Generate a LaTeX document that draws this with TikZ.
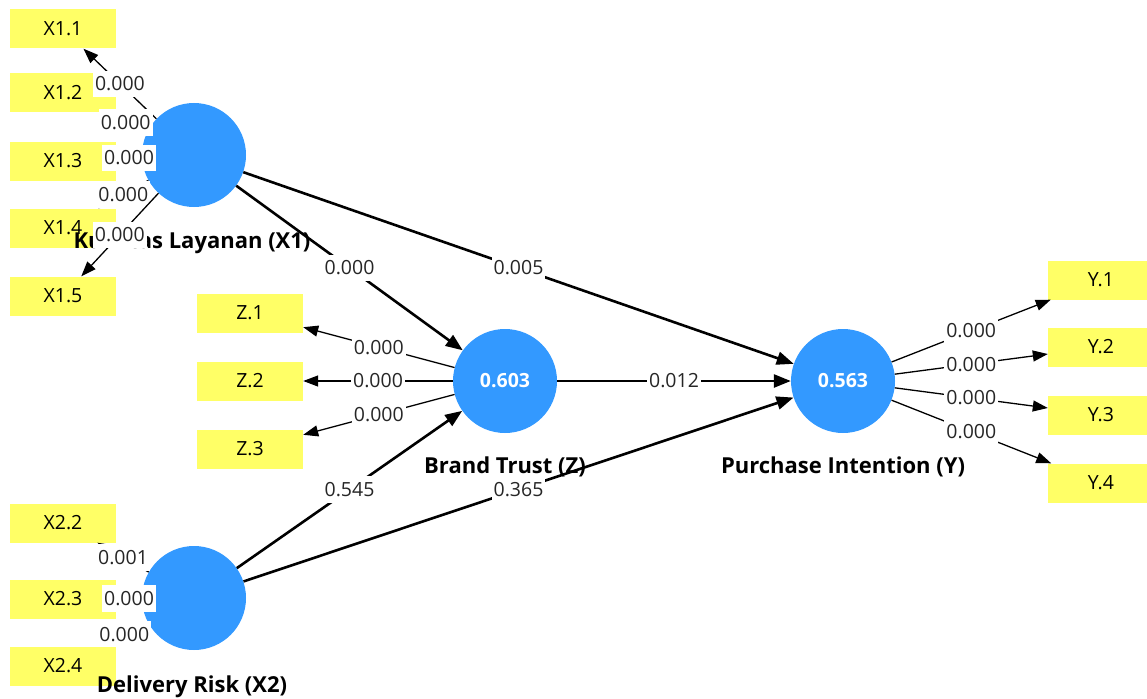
\documentclass[tikz,border=0pt]{standalone}
\usepackage{fontspec}
\setmainfont{Open Sans}
\usetikzlibrary{arrows.meta}
\definecolor{lvblue}{RGB}{51,153,255}
\definecolor{mvyellow}{RGB}{255,255,102}
\tikzset{
    latent/.style={circle, fill=lvblue, minimum size=104pt, inner sep=0pt, text=white, font=\bfseries\fontsize{19.5}{22}\selectfont},
    indicator/.style={rectangle, fill=mvyellow, minimum width=106pt, minimum height=39pt, inner sep=0pt, font=\fontsize{19.5}{22}\selectfont},
    lvname/.style={anchor=base, inner sep=0pt, font=\bfseries\fontsize{22}{24}\selectfont},
    pathline/.style={line width=2.6pt, -{Triangle[length=17pt,width=13pt]}},
    loading/.style={line width=1.3pt, -{Triangle[length=15pt,width=11pt]}},
    coef/.style={fill=white, inner xsep=2pt, inner ysep=6pt, text=black!85, font=\fontsize{19.5}{22}\selectfont}
}

\begin{document}
\begin{tikzpicture}[x=1pt, y=-1pt]
        \clip (0,0) rectangle (1147,698);
        \node[indicator] (x11) at (63,29) {X1.1};
        \node[indicator] (x12) at (63,93) {X1.2};
        \node[indicator] (x13) at (63,161) {X1.3};
        \node[indicator] (x14) at (63,228) {X1.4};
        \node[indicator] (x15) at (63,296) {X1.5};
        \node[indicator] (z1) at (250,313) {Z.1};
        \node[indicator] (z2) at (250,381) {Z.2};
        \node[indicator] (z3) at (250,449) {Z.3};
        \node[indicator] (x22) at (63,523) {X2.2};
        \node[indicator] (x23) at (63,599) {X2.3};
        \node[indicator] (x24) at (63,666) {X2.4};
        \node[indicator] (y1) at (1101,280) {Y.1};
        \node[indicator] (y2) at (1101,347) {Y.2};
        \node[indicator] (y3) at (1101,415) {Y.3};
        \node[indicator] (y4) at (1101,483) {Y.4};

        \node[latent] (x1) at (194,155) {};
        \node[latent] (bt) at (505,381) {0.603};
        \node[latent] (pi) at (843,381) {0.563};
        \node[latent] (x2) at (194,598) {};

        \node[lvname] (x1name) at (192,248) {Kualitas Layanan (X1)};
        \node[lvname] (btname) at (505,473) {Brand Trust (Z)};
        \node[lvname] (piname) at (843,473) {Purchase Intention (Y)};
        \node[lvname] (x2name) at (192,692) {Delivery Risk (X2)};

        \draw[pathline] (x1) -- node[coef] {0.000} (bt);
        \draw[pathline] (x1) -- node[coef] {0.005} (pi);
        \draw[pathline] (bt) -- node[coef] {0.012} (pi);
        \draw[pathline] (x2) -- node[coef] {0.545} (bt);
        \draw[pathline] (x2) -- node[coef] {0.365} (pi);

        \draw[loading] (x1) -- node[coef] {0.000} (x11);
        \draw[loading] (x1) -- node[coef] {0.000} (x12);
        \draw[loading] (x1) -- node[coef] {0.000} (x13);
        \draw[loading] (x1) -- node[coef] {0.000} (x14);
        \draw[loading] (x1) -- node[coef] {0.000} (x15);
        \draw[loading] (bt) -- node[coef] {0.000} (z1);
        \draw[loading] (bt) -- node[coef] {0.000} (z2);
        \draw[loading] (bt) -- node[coef] {0.000} (z3);
        \draw[loading] (x2) -- node[coef] {0.001} (x22);
        \draw[loading] (x2) -- node[coef] {0.000} (x23);
        \draw[loading] (x2) -- node[coef] {0.000} (x24);
        \draw[loading] (pi) -- node[coef] {0.000} (y1);
        \draw[loading] (pi) -- node[coef] {0.000} (y2);
        \draw[loading] (pi) -- node[coef] {0.000} (y3);
        \draw[loading] (pi) -- node[coef] {0.000} (y4);
    \end{tikzpicture}
\end{document}
